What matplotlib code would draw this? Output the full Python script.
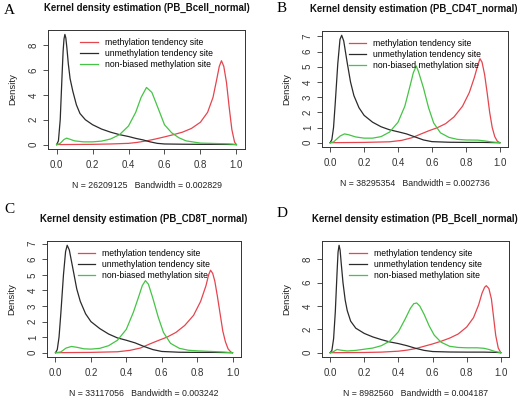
import matplotlib
matplotlib.use('Agg')
import matplotlib.pyplot as plt

plt.rcParams['font.family'] = ['Liberation Sans', 'DejaVu Sans']

RED = '#e5454f'
BLACK = '#2b2b2b'
GREEN = '#45c445'

# legend labels
labels = ['methylation tendency site', 'unmethylation tendency site',
          'non-biased methylation site']
letters = ['A', 'B', 'C', 'D']
titles = ['Kernel density estimation (PB_Bcell_normal)',
          'Kernel density estimation (PB_CD4T_normal)',
          'Kernel density estimation (PB_CD8T_normal)',
          'Kernel density estimation (PB_Bcell_normal)']
subs = ['N = 26209125   Bandwidth = 0.002829',
        'N = 38295354   Bandwidth = 0.002736',
        'N = 33117056   Bandwidth = 0.003242',
        'N = 8982560   Bandwidth = 0.004187']
yticks = [[0, 2, 4, 6, 8], [0, 1, 2, 3, 4, 5, 6, 7],
          [0, 1, 2, 3, 4, 5, 6, 7], [0, 2, 4, 6, 8]]

# ---- panel A ----
a_unm_x = [0.0, 0.01, 0.02, 0.03, 0.036, 0.041, 0.046, 0.051, 0.057, 0.065, 0.075, 0.09, 0.11,
           0.13, 0.16, 0.2, 0.25, 0.3, 0.35, 0.4, 0.44, 0.48, 0.52, 0.56, 0.6, 0.7, 0.8, 0.9,
           0.97, 1.0]
a_unm_y = [0.0, 0.3, 2.0, 5.5, 7.5, 8.5, 8.87, 8.6, 7.8, 6.5, 5.3, 4.3, 3.2,
           2.5, 2.0, 1.6, 1.25, 1.0, 0.8, 0.65, 0.5, 0.38, 0.22, 0.1, 0.05, 0.03, 0.02, 0.02,
           0.01, 0.0]
a_met_x = [0.0, 0.1, 0.2, 0.3, 0.4, 0.45, 0.5, 0.55, 0.6, 0.65, 0.7, 0.75, 0.8, 0.84, 0.87,
           0.89, 0.905, 0.917, 0.93, 0.945, 0.96, 0.975, 0.99, 1.0]
a_met_y = [0.0, 0.01, 0.02, 0.05, 0.1, 0.18, 0.3, 0.45, 0.62, 0.8, 1.0, 1.3, 1.8, 2.6, 3.8,
           5.2, 6.3, 6.75, 6.3, 5.0, 3.0, 1.2, 0.2, 0.0]
a_non_x = [0.0, 0.02, 0.04, 0.055, 0.07, 0.1, 0.15, 0.2, 0.25, 0.3, 0.35, 0.4, 0.44, 0.47,
           0.5, 0.53, 0.56, 0.6, 0.64, 0.68, 0.72, 0.8, 0.9, 0.95, 0.98, 1.0]
a_non_y = [0.0, 0.1, 0.4, 0.52, 0.45, 0.3, 0.22, 0.22, 0.28, 0.45, 0.8, 1.5, 2.6, 3.8,
           4.6, 4.2, 3.1, 1.6, 0.95, 0.55, 0.3, 0.12, 0.08, 0.06, 0.03, 0.0]

# ---- panel B ----
b_unm_x = [0.0, 0.01, 0.02, 0.03, 0.045, 0.058, 0.068, 0.08, 0.1, 0.12, 0.14, 0.17, 0.2, 0.25,
           0.3, 0.35, 0.4, 0.45, 0.5, 0.55, 0.6, 0.7, 0.8, 0.9, 1.0]
b_unm_y = [0.0, 0.2, 1.0, 2.6, 5.2, 6.8, 7.07, 6.7, 5.3, 4.0, 3.1, 2.3, 1.8, 1.35,
           1.05, 0.85, 0.72, 0.58, 0.38, 0.18, 0.07, 0.03, 0.02, 0.02, 0.0]
b_met_x = [0.0, 0.2, 0.35, 0.42, 0.48, 0.53, 0.58, 0.63, 0.68, 0.73, 0.78, 0.82, 0.85, 0.87,
           0.883, 0.895, 0.91, 0.925, 0.94, 0.955, 0.97, 0.985, 1.0]
b_met_y = [0.0, 0.02, 0.06, 0.15, 0.32, 0.55, 0.78, 0.98, 1.25, 1.7, 2.4, 3.3, 4.3, 5.1,
           5.53, 5.3, 4.5, 3.3, 2.0, 1.0, 0.4, 0.1, 0.0]
b_non_x = [0.0, 0.02, 0.04, 0.06, 0.085, 0.11, 0.15, 0.2, 0.25, 0.3, 0.35, 0.4, 0.44, 0.47,
           0.49, 0.507, 0.52, 0.55, 0.58, 0.61, 0.65, 0.7, 0.75, 0.8, 0.87, 0.91, 0.95, 1.0]
b_non_y = [0.0, 0.05, 0.25, 0.45, 0.58, 0.52, 0.38, 0.3, 0.3, 0.4, 0.7, 1.35, 2.4, 3.7,
           4.6, 5.05, 4.7, 3.6, 2.3, 1.3, 0.65, 0.35, 0.22, 0.18, 0.17, 0.12, 0.05, 0.0]

# ---- panel C ----
c_unm_x = [0.0, 0.01, 0.02, 0.03, 0.045, 0.057, 0.066, 0.078, 0.1, 0.12, 0.14, 0.17, 0.2, 0.25,
           0.3, 0.35, 0.4, 0.45, 0.5, 0.55, 0.6, 0.7, 0.8, 0.9, 1.0]
c_unm_y = [0.0, 0.2, 1.0, 2.5, 5.0, 6.5, 6.9, 6.6, 5.3, 4.1, 3.3, 2.5, 2.0, 1.55,
           1.2, 0.95, 0.8, 0.63, 0.4, 0.2, 0.08, 0.03, 0.02, 0.02, 0.0]
c_met_x = [0.0, 0.2, 0.35, 0.42, 0.48, 0.53, 0.58, 0.63, 0.68, 0.73, 0.78, 0.82, 0.85, 0.865,
           0.876, 0.888, 0.9, 0.915, 0.93, 0.945, 0.96, 0.975, 0.99, 1.0]
c_met_y = [0.0, 0.02, 0.06, 0.15, 0.3, 0.55, 0.78, 1.0, 1.3, 1.75, 2.4, 3.3, 4.3, 5.0,
           5.3, 5.1, 4.6, 3.6, 2.5, 1.4, 0.7, 0.25, 0.05, 0.0]
c_non_x = [0.0, 0.03, 0.06, 0.09, 0.12, 0.16, 0.2, 0.25, 0.3, 0.35, 0.4, 0.44, 0.47, 0.49,
           0.508, 0.525, 0.55, 0.58, 0.61, 0.65, 0.7, 0.75, 0.8, 0.9, 0.95, 1.0]
c_non_y = [0.0, 0.05, 0.3, 0.4, 0.35, 0.25, 0.23, 0.28, 0.45, 0.8, 1.5, 2.6, 3.6, 4.3,
           4.63, 4.4, 3.5, 2.3, 1.3, 0.6, 0.28, 0.16, 0.12, 0.07, 0.04, 0.0]

# ---- panel D ----
d_unm_x = [0.0, 0.01, 0.02, 0.03, 0.04, 0.046, 0.052, 0.058, 0.065, 0.075, 0.088, 0.1, 0.12,
           0.15, 0.2, 0.25, 0.3, 0.35, 0.4, 0.45, 0.5, 0.55, 0.6, 0.7, 0.8, 0.9, 0.97, 1.0]
d_unm_y = [0.0, 0.2, 1.2, 3.5, 6.8, 8.6, 9.2, 8.8, 7.6, 6.0, 4.5, 3.6, 2.7,
           2.1, 1.65, 1.35, 1.12, 0.92, 0.78, 0.6, 0.38, 0.2, 0.1, 0.06, 0.05, 0.05, 0.03, 0.0]
d_met_x = [0.0, 0.2, 0.3, 0.4, 0.45, 0.5, 0.55, 0.6, 0.65, 0.7, 0.75, 0.8, 0.84, 0.87,
           0.89, 0.905, 0.915, 0.93, 0.945, 0.958, 0.97, 0.985, 1.0]
d_met_y = [0.0, 0.02, 0.05, 0.13, 0.22, 0.35, 0.55, 0.75, 0.98, 1.25, 1.6, 2.2, 3.0, 4.1,
           5.1, 5.6, 5.74, 5.5, 4.6, 3.0, 1.5, 0.4, 0.0]
d_non_x = [0.0, 0.02, 0.04, 0.06, 0.1, 0.15, 0.2, 0.25, 0.3, 0.35, 0.4, 0.44, 0.47, 0.49,
           0.507, 0.525, 0.55, 0.58, 0.61, 0.65, 0.7, 0.75, 0.8, 0.86, 0.9, 0.93, 0.96, 0.99, 1.0]
d_non_y = [0.0, 0.1, 0.28, 0.22, 0.15, 0.2, 0.3, 0.4, 0.6, 1.0, 1.8, 2.9, 3.8, 4.2,
           4.26, 4.0, 3.3, 2.3, 1.5, 0.9, 0.55, 0.45, 0.42, 0.42, 0.38, 0.28, 0.13, 0.03, 0.0]

panels = [
    ((a_met_x, a_met_y), (a_unm_x, a_unm_y), (a_non_x, a_non_y)),
    ((b_met_x, b_met_y), (b_unm_x, b_unm_y), (b_non_x, b_non_y)),
    ((c_met_x, c_met_y), (c_unm_x, c_unm_y), (c_non_x, c_non_y)),
    ((d_met_x, d_met_y), (d_unm_x, d_unm_y), (d_non_x, d_non_y)),
]
colors = [RED, BLACK, GREEN]

# axes boxes in pixels (left, top, right, bottom) measured on a 520x398 canvas
W, H = 520.0, 398.0
boxes = [(48, 30, 245, 149), (322, 31, 508, 147),
         (47, 241, 241, 357), (322, 241, 509, 357)]
letter_pos = [(9, 10), (282, 9), (9, 210), (282, 213)]

fig = plt.figure(figsize=(5.2, 3.98), dpi=100)

for i in range(4):
    l, t, r, b = boxes[i]
    ax = fig.add_axes([l / W, 1 - b / H, (r - l) / W, (b - t) / H])
    ymax = 0
    for (xs, ys), c, lab in zip(panels[i], colors, labels):
        ax.plot(xs, ys, color=c, lw=0.9, label=lab)
        ymax = max(ymax, max(ys))
    ax.set_xlim(-0.048, 1.048)
    ax.set_ylim(-0.04 * ymax, 1.04 * ymax)
    ax.set_xticks([0.0, 0.2, 0.4, 0.6, 0.8, 1.0])
    ax.set_xticklabels(['0.0', '0.2', '0.4', '0.6', '0.8', '1.0'])
    ax.set_yticks(yticks[i])
    ax.tick_params(direction='out', length=3.6, width=0.6, labelsize=7, pad=4,
                   colors='#333333')
    ax.tick_params(axis='y', labelrotation=90, pad=3)
    for lbl in ax.get_yticklabels():
        lbl.set_va('center')
    for s in ax.spines.values():
        s.set_linewidth(0.7)
        s.set_color('#333333')
    # right column titles run up to the right edge, keep them just inside
    tx = 0.5 if l < W / 2 else 0.495
    ax.set_title(titles[i], fontsize=6.95, fontweight='bold', pad=14, color='#111111',
                 x=tx)
    ax.set_xlabel(subs[i], fontsize=6.3, labelpad=8, color='#222222')
    ax.set_ylabel('Density', fontsize=6.8, labelpad=8, color='#222222')
    ax.legend(loc='upper center', frameon=False, fontsize=6.2, handlelength=2.0,
              labelspacing=0.25, borderaxespad=0.5, handletextpad=0.8)
    fig.text(letter_pos[i][0] / W, 1 - letter_pos[i][1] / H, letters[i],
             family=['Liberation Serif', 'DejaVu Serif'], fontsize=11,
             ha='center', va='center')

fig.savefig('out.png', dpi=100)
